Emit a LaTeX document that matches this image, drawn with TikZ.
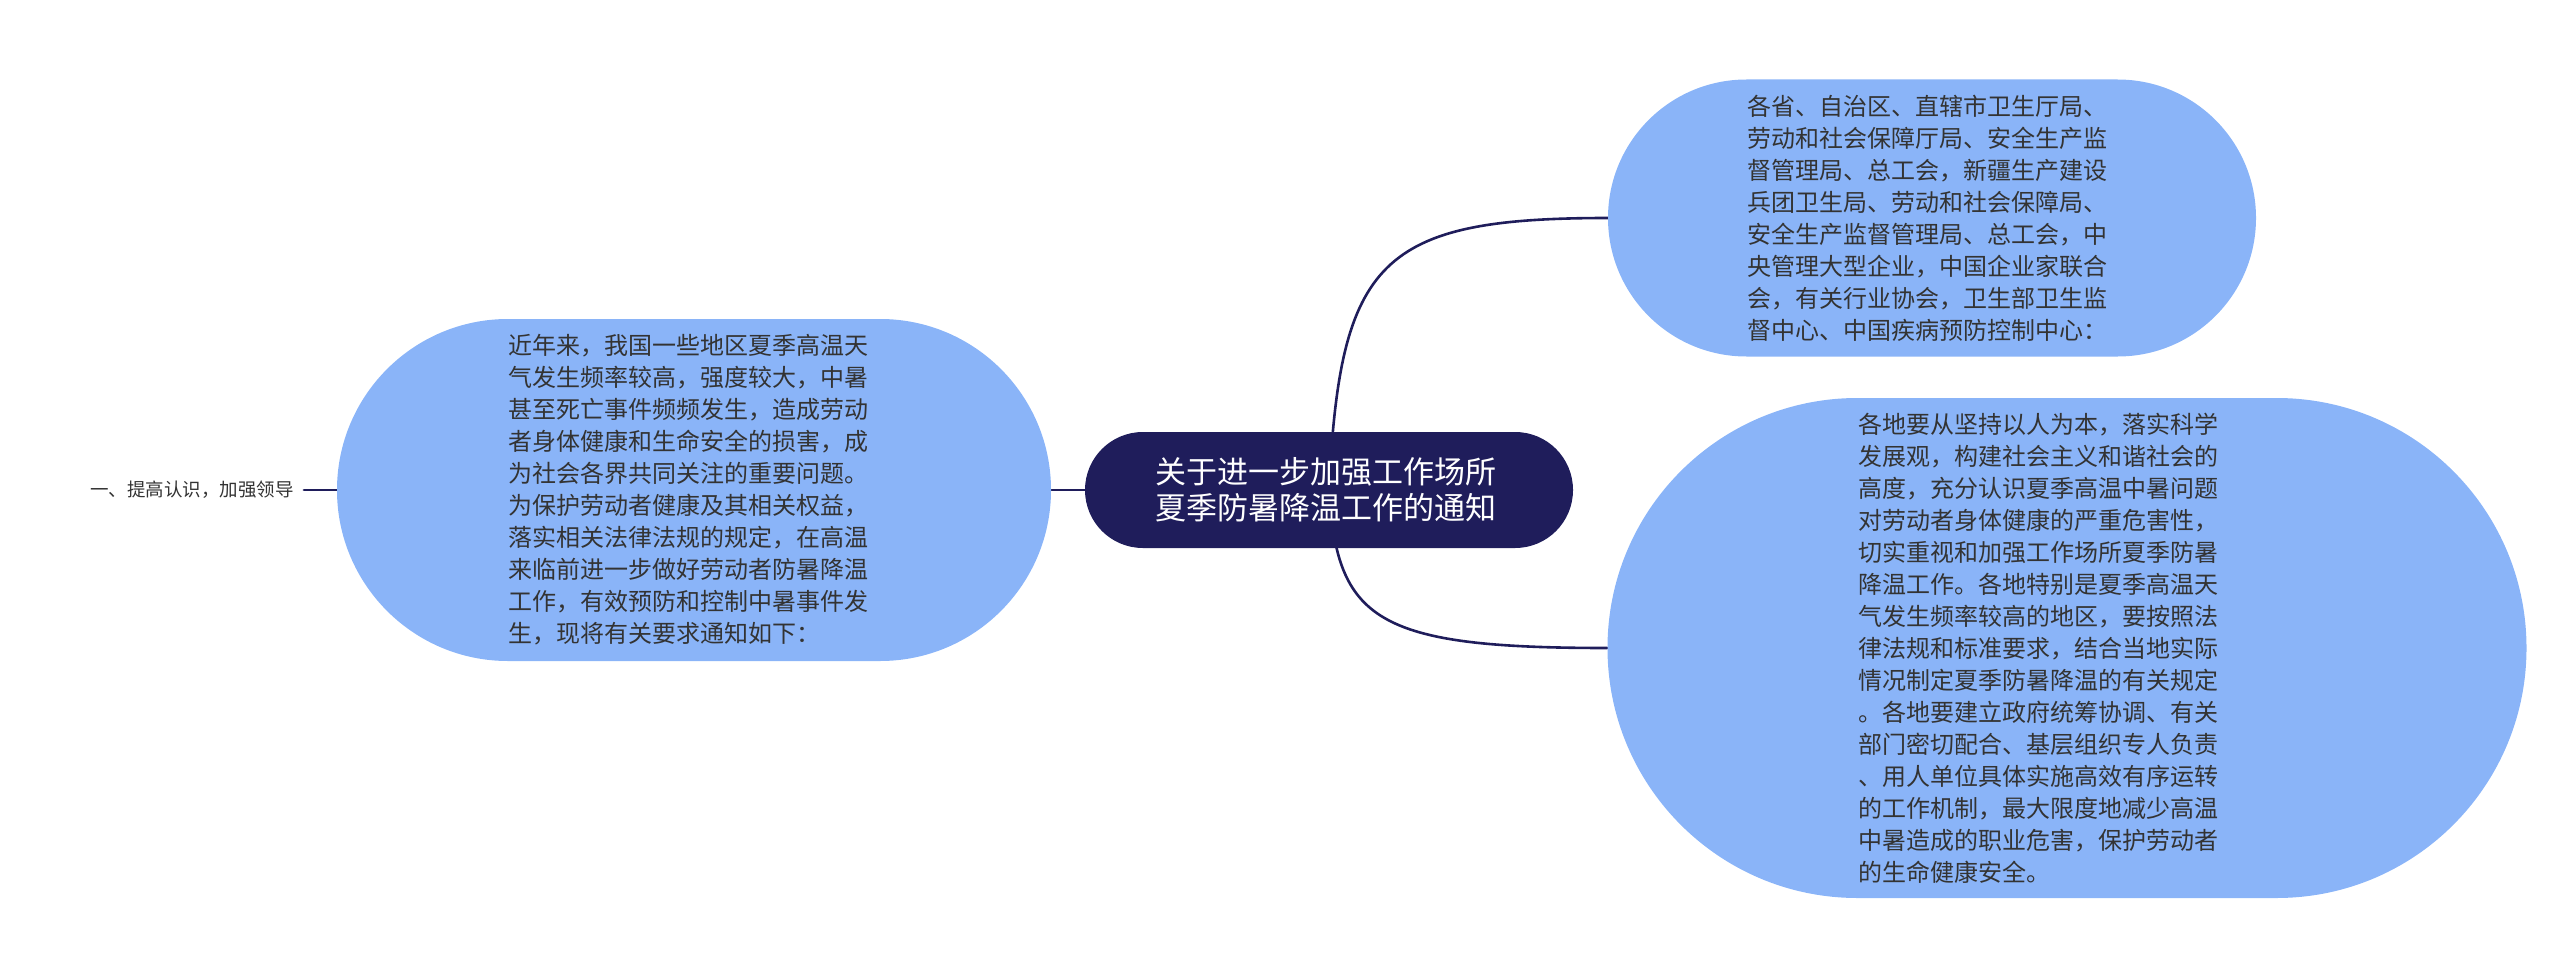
\documentclass[tikz,border=0pt]{standalone}
\usepackage{fontspec}
\newfontfamily\cjk{Noto Sans CJK SC}
\usetikzlibrary{backgrounds}
\definecolor{rootnavy}{HTML}{1F1D5B}
\definecolor{topicblue}{HTML}{8AB4F8}
\definecolor{textgray}{HTML}{333333}
\tikzset{
  rootbox/.style={fill=rootnavy, text=white, inner sep=0pt, rounded corners=57.9pt,
    minimum width=488pt, minimum height=116pt, text width=348pt, align=left,
    font={\cjk\fontsize{31pt}{36pt}\selectfont}},
  topicbox/.style={fill=topicblue, text=textgray, inner sep=0pt, align=left,
    font={\cjk\fontsize{24pt}{32pt}\selectfont}},
  leaflabel/.style={text=textgray, inner ysep=0pt, inner xsep=10pt,
    font={\cjk\fontsize{18.5pt}{22pt}\selectfont}},
  branch/.style={line width=2.6pt, draw=rootnavy, line cap=round},
}

\begin{document}
\begin{tikzpicture}[x=1pt,y=-1pt]
\useasboundingbox (0,0) rectangle (2560,979);
\node[rootbox] (notice) at (1329,490) {关于进一步加强工作场所\\夏季防暑降温工作的通知};
\node[topicbox, minimum width=714pt, minimum height=342pt, rounded corners=170.9pt, text width=372pt] (reason) at (694,490) {近年来，我国一些地区夏季高温天\\
气发生频率较高，强度较大，中暑\\
甚至死亡事件频频发生，造成劳动\\
者身体健康和生命安全的损害，成\\
为社会各界共同关注的重要问题。\\
为保护劳动者健康及其相关权益，\\
落实相关法律法规的规定，在高温\\
来临前进一步做好劳动者防暑降温\\
工作，有效预防和控制中暑事件发\\
生，现将有关要求通知如下：};
\node[topicbox, minimum width=648pt, minimum height=277pt, rounded corners=138.4pt, text width=370pt] (addressee) at (1932,218) {各省、自治区、直辖市卫生厅局、\\
劳动和社会保障厅局、安全生产监\\
督管理局、总工会，新疆生产建设\\
兵团卫生局、劳动和社会保障局、\\
安全生产监督管理局、总工会，中\\
央管理大型企业，中国企业家联合\\
会，有关行业协会，卫生部卫生监\\
督中心、中国疾病预防控制中心：};
\node[topicbox, minimum width=919pt, minimum height=500pt, rounded corners=249.9pt, text width=418pt] (duty) at (2067,648) {各地要从坚持以人为本，落实科学\\
发展观，构建社会主义和谐社会的\\
高度，充分认识夏季高温中暑问题\\
对劳动者身体健康的严重危害性，\\
切实重视和加强工作场所夏季防暑\\
降温工作。各地特别是夏季高温天\\
气发生频率较高的地区，要按照法\\
律法规和标准要求，结合当地实际\\
情况制定夏季防暑降温的有关规定\\
。各地要建立政府统筹协调、有关\\
部门密切配合、基层组织专人负责\\
、用人单位具体实施高效有序运转\\
的工作机制，最大限度地减少高温\\
中暑造成的职业危害，保护劳动者\\
的生命健康安全。};
\node[leaflabel] (lead) at (192,490) {一、提高认识，加强领导};
\begin{scope}[on background layer]
\draw[branch] (lead.east) -- (reason.west);
\draw[branch] (reason.east) -- (notice.west);
\draw[branch] (notice.center) .. controls (1340,260) and (1380,218) .. (addressee.west);
\draw[branch] (notice.center) .. controls (1337,620) and (1375,648) .. (duty.west);
\end{scope}
\end{tikzpicture}
\end{document}
